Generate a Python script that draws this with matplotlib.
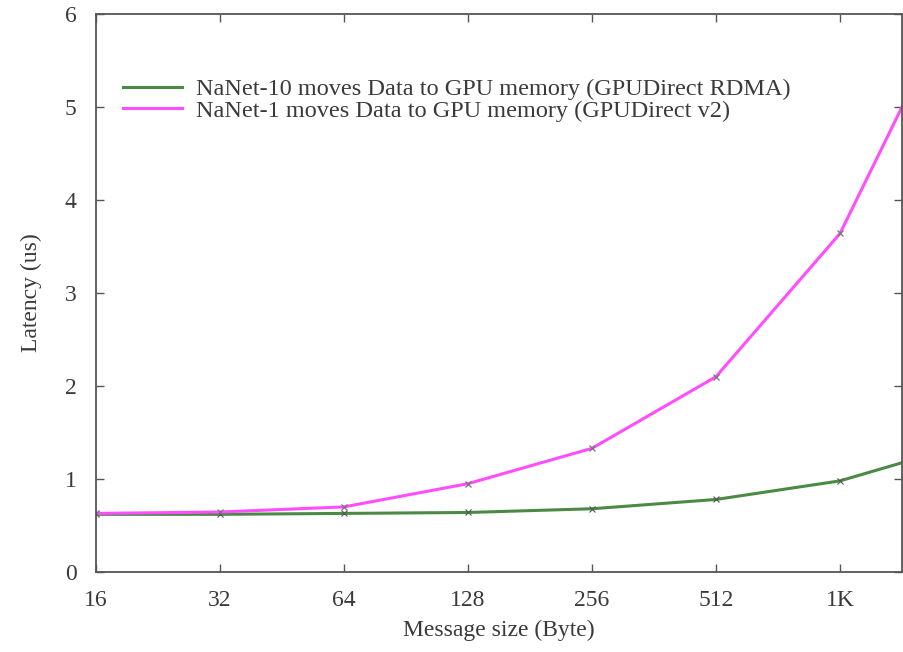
import numpy as np
import matplotlib.pyplot as plt
from matplotlib.ticker import FixedLocator, NullLocator

plt.rcParams['font.family'] = ['Liberation Serif', 'DejaVu Serif']

# Message sizes (bytes) and measured latencies (us)
msg_size = [16, 32, 64, 128, 256, 512, 1024, 2048]
tick_labels = ['16', '32', '64', '128', '256', '512', '1K']
lat_nanet10 = [0.62, 0.62, 0.63, 0.64, 0.68, 0.78, 0.98, 1.37]
lat_nanet1 = [0.63, 0.645, 0.70, 0.95, 1.33, 2.10, 3.64, 6.36]

label_nanet10 = 'NaNet-10 moves Data to GPU memory (GPUDirect RDMA)'
label_nanet1 = 'NaNet-1 moves Data to GPU memory (GPUDirect v2)'

fig = plt.figure(figsize=(9.04, 6.52), dpi=100)
ax = fig.add_axes([0.1062, 0.1227, 0.8916, 0.8558])

ax.plot(msg_size, lat_nanet10, color='#4b8a45', lw=2.2,
        marker='x', ms=4, mec='#555555', mew=0.8, label=label_nanet10)
ax.plot(msg_size, lat_nanet1, color='#ff4dff', lw=2.2,
        marker='x', ms=5, mec='#777777', mew=0.9, label=label_nanet1)

ax.set_xscale('log', base=2)
ax.set_xlim(16, 16 * 2 ** 6.5)
ax.set_ylim(0, 6)
ax.xaxis.set_major_locator(FixedLocator(msg_size[:7]))
ax.xaxis.set_minor_locator(NullLocator())
ax.set_xticklabels(tick_labels)
ax.set_yticks(range(7))

ax.tick_params(direction='in', top=True, right=True, length=6, width=1,
               color='#555555', labelsize=17, labelcolor='#3a3a3a')
ax.tick_params(axis='x', pad=13)
ax.tick_params(axis='y', pad=14)
for s in ax.spines.values():
    s.set_color('#555555')
    s.set_linewidth(1.3)

ax.set_xlabel('Message size (Byte)', fontsize=17, color='#3a3a3a', labelpad=6)
ax.set_ylabel('Latency (us)', fontsize=17, color='#3a3a3a', labelpad=16)

leg = ax.legend(loc='upper left', bbox_to_anchor=(0.022, 0.902), frameon=False,
                fontsize=17.5, handlelength=2.4, handletextpad=0.6,
                labelspacing=-0.02, borderaxespad=0)
for t in leg.get_texts():
    t.set_color('#3a3a3a')
for h in leg.get_lines():
    h.set_marker('None')

fig.savefig('out.png', dpi=100)
